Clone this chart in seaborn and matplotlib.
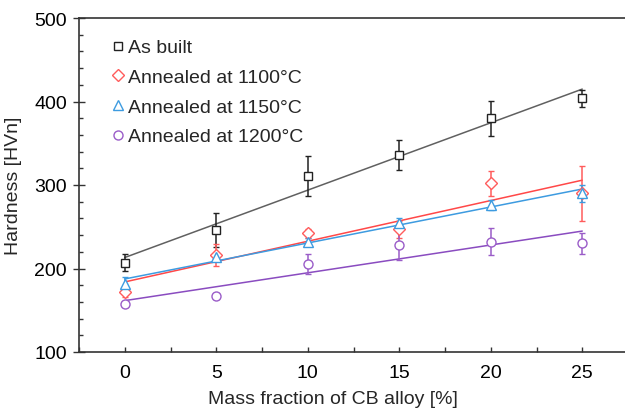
import numpy as np
import pandas as pd
import matplotlib
matplotlib.use('Agg')
import matplotlib.pyplot as plt
import seaborn as sns
from matplotlib.ticker import MultipleLocator

# data
mass_fraction = [0, 5, 10, 15, 20, 25]
labels = ['As built', 'Annealed at 1100°C', 'Annealed at 1150°C', 'Annealed at 1200°C']
as_built = [207, 246, 311, 336, 380, 404]
as_built_err = [10, 20, 24, 18, 21, 10]
ann_1100 = [172, 216, 242, 247, 302, 290]
ann_1100_err = [6, 13, 5, 10, 15, 33]
ann_1150 = [181, 214, 232, 255, 276, 290]
ann_1150_err = [9, 5, 5, 5, 6, 10]
ann_1200 = [157, 167, 205, 228, 232, 230]
ann_1200_err = [3, 4, 12, 18, 16, 13]

markers = ['s', 'D', '^', 'o']
marker_sizes = [6, 6, 6.5, 6.5]
point_colors = ['#222222', '#ff5c5c', '#3d9be0', '#9a5cc8']
line_colors = ['#606060', '#ff4848', '#3d9be0', '#8a4cc0']

sns.set_style('ticks')
plt.rcParams['font.family'] = ['Liberation Sans', 'DejaVu Sans']

fig = plt.figure(figsize=(6.25, 4.1), dpi=100)
ax = fig.add_axes([79 / 625, 57 / 410, 549 / 625, 334 / 410])

series = [(as_built, as_built_err), (ann_1100, ann_1100_err),
          (ann_1150, ann_1150_err), (ann_1200, ann_1200_err)]

for i, (vals, errs) in enumerate(series):
    df = pd.DataFrame({'x': mass_fraction, 'y': vals})
    # linear fit line
    sns.regplot(data=df, x='x', y='y', ax=ax, scatter=False, ci=None,
                color=line_colors[i], line_kws={'lw': 1.1})
    ax.errorbar(mass_fraction, vals, yerr=errs, fmt=markers[i], ms=marker_sizes[i],
                mfc='white', mec=point_colors[i], mew=1.0, ecolor=point_colors[i],
                elinewidth=1.1, capsize=2.5, capthick=1.0, label=labels[i], zorder=3)

ax.set_xlim(-2.5, 27.5)
ax.set_ylim(100, 500)
ax.xaxis.set_major_locator(MultipleLocator(5))
ax.xaxis.set_minor_locator(MultipleLocator(2.5))
ax.yaxis.set_major_locator(MultipleLocator(100))
ax.yaxis.set_minor_locator(MultipleLocator(20))
ax.tick_params(axis='y', which='major', direction='inout', length=8.6, width=1, pad=4.5,
               labelsize=14, colors='#333333', labelcolor='black')
ax.tick_params(axis='y', which='minor', direction='in', length=3, width=1, colors='#333333')
ax.tick_params(axis='x', which='both', direction='in', length=3.3, width=1, pad=9,
               labelsize=14, colors='#333333', labelcolor='black')
for sp in ax.spines.values():
    sp.set_color('#333333')
    sp.set_linewidth(1.2)

ax.set_xlabel('Mass fraction of CB alloy [%]', fontsize=14, labelpad=6, x=0.463)
ax.set_ylabel('Hardness [HVn]', fontsize=14, labelpad=9)

handles, labs = ax.get_legend_handles_labels()
handles = [h[0] for h in handles]
leg = ax.legend(handles, labs, loc='upper left', bbox_to_anchor=(0.029, 0.99), frameon=False,
                fontsize=14, handlelength=0.6, handletextpad=0.22, labelspacing=0.62)

fig.savefig('out.png', dpi=100)
